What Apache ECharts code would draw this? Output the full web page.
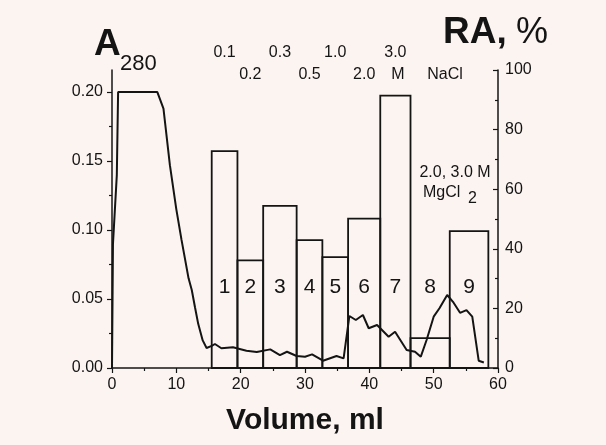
<!DOCTYPE html>
<html>
<head>
<meta charset="utf-8">
<script src="https://cdn.jsdelivr.net/npm/echarts@6/dist/echarts.min.js"></script>
<style>
  html, body { margin: 0; padding: 0; background: #fcf4f1; }
  #chart { width: 606px; height: 445px; }
</style>
</head>
<body>
<div id="chart"></div>
<script>
// elution profile, A280 vs volume (ml)
var volume = [0, 0.15, 0.75, 0.95, 7.05, 8.0, 9.0, 10.0, 10.8, 11.9, 12.4, 12.9, 13.4, 14.1, 14.7,
  15.5, 16.0, 17.0, 18.8, 20.9, 22.5, 24.6, 26.1, 27.2, 28.7, 30.0, 31.1, 32.8, 34.9, 36.0,
  36.9, 37.9, 39.0, 39.9, 41.2, 43.0, 44.0, 45.8, 47.1, 48.0, 48.9, 50.0, 50.9, 52.1, 53.0,
  54.1, 55.1, 56.0, 57.0, 57.8];
var a280 = [0, 0.09, 0.14, 0.2, 0.2, 0.188, 0.147, 0.115, 0.093, 0.065, 0.0565, 0.044, 0.032, 0.020, 0.0145,
  0.0160, 0.0174, 0.0143, 0.0150, 0.0125, 0.0116, 0.0135, 0.0094, 0.0118, 0.0087, 0.0082, 0.0099, 0.0053, 0.0087, 0.0070,
  0.0377, 0.0348, 0.0384, 0.0288, 0.0312, 0.0227, 0.0263, 0.0130, 0.0118, 0.0082, 0.0203, 0.0372, 0.0433, 0.0529, 0.0480,
  0.0400, 0.0420, 0.0372, 0.0053, 0.0040];

// fractions: RA, %
var fracNames = ['1', '2', '3', '4', '5', '6', '7', '8', '9'];
var fracStart = [15.5, 19.5, 23.5, 28.7, 32.7, 36.7, 41.7, 46.4, 52.5];
var fracEnd = [19.5, 23.5, 28.7, 32.7, 36.7, 41.7, 46.4, 52.5, 58.5];
var activity = [72.8, 36.1, 54.4, 42.9, 37.2, 50.1, 91.4, 10.0, 45.9];
var naclConc = ['0.1', '0.2', '0.3', '0.5', '1.0', '2.0', '3.0', '', ''];

var leftTicks = [0, 0.05, 0.1, 0.15, 0.2];
var leftMinor = [0.025, 0.075, 0.125, 0.175];

var font = 'Liberation Sans, Arial, sans-serif';
var ink = '#141414';

var lineData = volume.map(function (v, i) { return [v, a280[i]]; });
var barData = fracNames.map(function (n, i) {
  return [fracStart[i], fracEnd[i], activity[i], i];
});

var chart = echarts.init(document.getElementById('chart'));
chart.setOption({
  backgroundColor: '#fcf4f1',
  animation: false,
  grid: { left: 112, right: 108, top: 70, bottom: 77 },
  xAxis: {
    type: 'value', min: 0, max: 60, interval: 10,
    axisLine: { lineStyle: { color: ink, width: 1.5 } },
    axisTick: { length: 5, lineStyle: { color: ink, width: 1.2 } },
    minorTick: { show: true, splitNumber: 2, length: 3, lineStyle: { color: ink, width: 1.2 } },
    axisLabel: { color: ink, fontSize: 16, fontFamily: font, margin: 9 },
    splitLine: { show: false }
  },
  yAxis: [
    {
      type: 'value', position: 'left', min: 0, max: 0.216,
      axisLine: { show: true, lineStyle: { color: ink, width: 1.5 } },
      axisTick: { show: true, length: 5, customValues: leftTicks, lineStyle: { color: ink, width: 1.2 } },
      axisLabel: { color: ink, fontSize: 16, fontFamily: font, margin: 9, customValues: leftTicks,
        formatter: function (v) { return v.toFixed(2); } },
      splitLine: { show: false }
    },
    {
      type: 'value', position: 'right', min: 0, max: 100, interval: 20,
      axisLine: { show: true, lineStyle: { color: ink, width: 1.5 } },
      axisTick: { show: true, inside: true, length: 5, lineStyle: { color: ink, width: 1.2 } },
      minorTick: { show: true, splitNumber: 2, length: 3, lineStyle: { color: ink, width: 1.2 } },
      axisLabel: { color: ink, fontSize: 16, fontFamily: font, margin: 7 },
      splitLine: { show: false }
    },
    {
      type: 'value', position: 'left', min: 0, max: 0.216,
      axisLine: { show: false },
      axisTick: { show: true, length: 3, customValues: leftMinor, lineStyle: { color: ink, width: 1.2 } },
      axisLabel: { show: false },
      splitLine: { show: false }
    }
  ],
  series: [
    {
      type: 'custom',
      yAxisIndex: 1,
      clip: false,
      data: barData,
      renderItem: function (params, api) {
        var p0 = api.coord([api.value(0), api.value(2)]);
        var p1 = api.coord([api.value(1), 0]);
        var cx = (p0[0] + p1[0]) / 2;
        var top = api.coord([0, 100])[1];
        var numY = api.coord([0, 27])[1];
        var idx = api.value(3);
        var conc = naclConc[idx];
        var children = [
          { type: 'rect', shape: { x: p0[0], y: p0[1], width: p1[0] - p0[0], height: p1[1] - p0[1] },
            style: { fill: 'none', stroke: ink, lineWidth: 1.8 } },
          { type: 'text', x: cx, y: numY,
            style: { text: fracNames[idx], font: '21px ' + font, fill: ink, align: 'center', verticalAlign: 'middle' } }
        ];
        if (conc) {
          children.push({ type: 'text', x: cx, y: top + (idx % 2 === 0 ? -17 : 5),
            style: { text: conc, font: '16px ' + font, fill: ink, align: 'center', verticalAlign: 'middle' } });
        }
        return { type: 'group', children: children };
      },
      z: 2
    },
    {
      type: 'line',
      yAxisIndex: 0,
      data: lineData,
      symbol: 'none',
      lineStyle: { color: ink, width: 2 },
      z: 3
    }
  ],
  graphic: [
    { type: 'text', x: 94, y: 45, style: { text: 'A', font: 'bold 37px ' + font, fill: ink, align: 'left', verticalAlign: 'middle' } },
    { type: 'text', x: 120, y: 64, style: { text: '280', font: '22px ' + font, fill: ink, align: 'left', verticalAlign: 'middle' } },
    { type: 'text', x: 443, y: 33, style: { text: 'RA,', font: 'bold 37px ' + font, fill: ink, align: 'left', verticalAlign: 'middle' } },
    { type: 'text', x: 516, y: 33, style: { text: '%', font: '36px ' + font, fill: ink, align: 'left', verticalAlign: 'middle' } },
    { type: 'text', x: 305, y: 421, style: { text: 'Volume, ml', font: 'bold 30px ' + font, fill: ink, align: 'center', verticalAlign: 'middle' } },
    { type: 'text', x: 398, y: 75, style: { text: 'M', font: '16px ' + font, fill: ink, align: 'center', verticalAlign: 'middle' } },
    { type: 'text', x: 445, y: 75, style: { text: 'NaCl', font: '16px ' + font, fill: ink, align: 'center', verticalAlign: 'middle' } },
    { type: 'text', x: 455, y: 173, style: { text: '2.0, 3.0 M', font: '16px ' + font, fill: ink, align: 'center', verticalAlign: 'middle' } },
    { type: 'text', x: 423, y: 193, style: { text: 'MgCl', font: '16px ' + font, fill: ink, align: 'left', verticalAlign: 'middle' } },
    { type: 'text', x: 468, y: 199, style: { text: '2', font: '16px ' + font, fill: ink, align: 'left', verticalAlign: 'middle' } }
  ]
});
</script>
</body>
</html>
